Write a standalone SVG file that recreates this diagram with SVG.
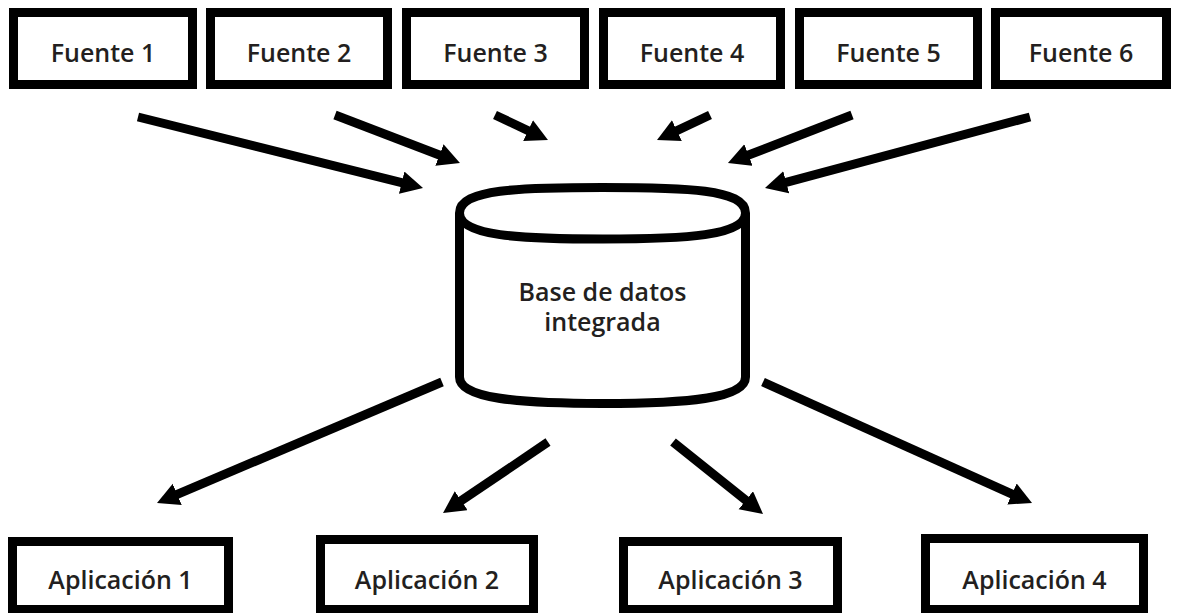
<svg xmlns="http://www.w3.org/2000/svg" width="1181" height="613" viewBox="0 0 1181 613">
  <style>
    .box { fill: #fff; stroke: #000; stroke-width: 9; }
    .db { fill: #fff; stroke: #000; stroke-width: 9; stroke-linejoin: round; }
    .lbl { font-family: "Open Sans", "Liberation Sans", sans-serif; font-weight: 600; font-size: 25px; fill: #231f20; text-anchor: middle; }
    .arrow { stroke: #000; stroke-width: 9; fill: none; marker-end: url(#head); }
  </style>
  <defs>
    <marker id="head" markerUnits="userSpaceOnUse" markerWidth="24" markerHeight="24" refX="2" refY="11.5" orient="auto">
      <path d="M0,0 L22,11.5 L0,23 z" fill="#000"/>
    </marker>
  </defs>
  <rect width="1181" height="613" fill="#fff"/>

  <!-- sources -->
  <g id="fuente1"><rect class="box" x="13.5" y="12.5" width="179" height="72"/><text class="lbl" x="103" y="62">Fuente 1</text></g>
  <g id="fuente2"><rect class="box" x="210.5" y="12.5" width="177" height="72"/><text class="lbl" x="299" y="62">Fuente 2</text></g>
  <g id="fuente3"><rect class="box" x="406.5" y="12.5" width="178" height="72"/><text class="lbl" x="495.5" y="62">Fuente 3</text></g>
  <g id="fuente4"><rect class="box" x="603.5" y="12.5" width="177" height="72"/><text class="lbl" x="692" y="62">Fuente 4</text></g>
  <g id="fuente5"><rect class="box" x="799.5" y="12.5" width="178" height="72"/><text class="lbl" x="888.5" y="62">Fuente 5</text></g>
  <g id="fuente6"><rect class="box" x="995.5" y="12.5" width="171" height="72"/><text class="lbl" x="1081" y="62">Fuente 6</text></g>

  <!-- integrated database -->
  <g id="database">
    <path class="db" d="M459.5,213 C459.5,189 520,187.5 602.5,187.5 C685,187.5 745.5,189 745.5,213 L745.5,377 C745.5,399 685,403.5 602.5,403.5 C520,403.5 459.5,399 459.5,377 Z"/>
    <path class="db" fill="none" d="M459.5,213 C459.5,236 520,239 602.5,239 C685,239 745.5,236 745.5,213"/>
    <text class="lbl" x="602.5" y="301">Base de datos</text>
    <text class="lbl" x="602.5" y="331">integrada</text>
  </g>

  <!-- applications -->
  <g id="app1"><rect class="box" x="12.5" y="541.5" width="216" height="68"/><text class="lbl" x="120.5" y="589">Aplicación 1</text></g>
  <g id="app2"><rect class="box" x="320.5" y="539.5" width="213" height="70"/><text class="lbl" x="427" y="589">Aplicación 2</text></g>
  <g id="app3"><rect class="box" x="623.5" y="541.5" width="214" height="68"/><text class="lbl" x="730.5" y="589">Aplicación 3</text></g>
  <g id="app4"><rect class="box" x="925.5" y="538.5" width="218" height="71"/><text class="lbl" x="1034.5" y="589">Aplicación 4</text></g>

  <!-- connectors -->
  <g id="connectors">
    <line class="arrow" x1="138" y1="117" x2="403.6" y2="183.2"/>
    <line class="arrow" x1="335" y1="115" x2="441.3" y2="155.8"/>
    <line class="arrow" x1="495" y1="115" x2="529.9" y2="131.5"/>
    <line class="arrow" x1="710" y1="115" x2="675.1" y2="131.5"/>
    <line class="arrow" x1="852" y1="115" x2="746.6" y2="155.8"/>
    <line class="arrow" x1="1030" y1="117" x2="784.3" y2="182.8"/>
    <line class="arrow" x1="442" y1="382" x2="175.4" y2="495.2"/>
    <line class="arrow" x1="548" y1="442" x2="459.6" y2="501.8"/>
    <line class="arrow" x1="673" y1="442" x2="747.4" y2="501.5"/>
    <line class="arrow" x1="763" y1="382" x2="1013.8" y2="494.8"/>
  </g>
</svg>
